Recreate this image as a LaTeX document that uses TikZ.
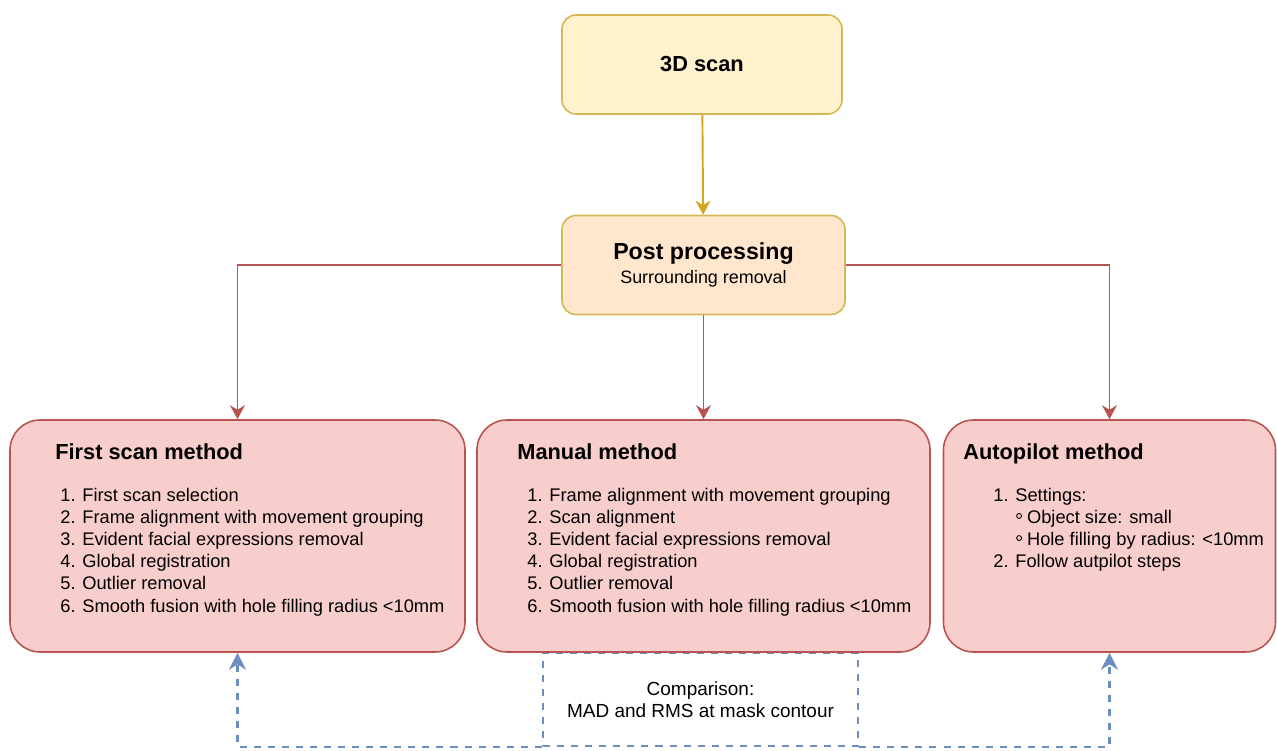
\documentclass[tikz,border=0pt]{standalone}
\usepackage{fontspec}
\setmainfont{Liberation Sans}
\usetikzlibrary{shapes,arrows.meta,positioning}

\definecolor{scanfill}{HTML}{FFF2CC}
\definecolor{scanline}{HTML}{D6B656}
\definecolor{postfill}{HTML}{FFE6CC}
\definecolor{methfill}{HTML}{F8CECC}
\definecolor{methline}{HTML}{B85450}
\definecolor{compline}{HTML}{6C8EBF}
\definecolor{goldarrow}{HTML}{D6A520}

\newcommand{\subdot}{\raisebox{0.5ex}{\tikz\draw[line width=0.5pt] (0,0) circle (1.4pt);}}

\begin{document}
\begin{tikzpicture}[
    topbox/.style={draw=scanline, line width=0.9pt, rounded corners=0.28cm,
        minimum width=5.6cm, minimum height=1.98cm, align=center},
    methodbox/.style={draw=methline, fill=methfill, line width=0.9pt,
        rounded corners=0.6cm, minimum height=4.64cm},
    titletext/.style={anchor=base west, inner sep=0, font=\fontsize{12.4}{14}\selectfont\bfseries},
    listtext/.style={anchor=west, inner sep=0, align=left, font=\fontsize{10.4}{12.6}\selectfont},
    redarrow/.style={draw=methline, line width=1.1pt, -{Stealth[length=0.28cm, width=0.3cm]}},
    bluearrow/.style={draw=compline, line width=1.3pt, dash pattern=on 4pt off 4pt,
        -{Stealth[length=0.34cm, width=0.34cm]}}
]
    \useasboundingbox (0,0) rectangle (25.54,-15.02);

    % Top boxes
    \node[topbox, fill=scanfill, font=\fontsize{12.4}{14}\selectfont\bfseries] (scan) at (14.04,-1.29) {3D scan};
    \node[topbox, fill=postfill, minimum width=5.66cm] (post) at (14.07,-5.3)
        {{\fontsize{13.2}{15}\selectfont\bfseries Post processing}\\[2pt]
         {\fontsize{10.2}{12}\selectfont Surrounding removal}};

    % Comparison box (behind the methods)
    \node[draw=compline, line width=1.3pt, dash pattern=on 4pt off 4pt,
          minimum width=6.3cm, minimum height=1.86cm, align=center,
          font=\fontsize{10.8}{12.8}\selectfont] (comp) at (14.01,-13.99)
        {Comparison:\\MAD and RMS at mask contour};

    % Method boxes
    \node[methodbox, minimum width=9.1cm] (first) at (4.75,-10.72) {};
    \node[methodbox, minimum width=9.06cm] (manual) at (14.07,-10.72) {};
    \node[methodbox, minimum width=6.64cm] (auto) at (22.19,-10.72) {};

    % Method texts
    \node[titletext] (firsttitle) at (1.1,-9.2) {First scan method};
    \node[listtext] (firstlist) at (1.2,-11.04) {1. First scan selection\\
        2. Frame alignment with movement grouping\\
        3. Evident facial expressions removal\\
        4. Global registration\\
        5. Outlier removal\\
        6. Smooth fusion with hole filling radius <10mm};

    \node[titletext] (manualtitle) at (10.34,-9.2) {Manual method};
    \node[listtext] (manuallist) at (10.54,-11.04) {1. Frame alignment with movement grouping\\
        2. Scan alignment\\
        3. Evident facial expressions removal\\
        4. Global registration\\
        5. Outlier removal\\
        6. Smooth fusion with hole filling radius <10mm};

    \node[titletext] (autotitle) at (19.26,-9.2) {Autopilot method};
    \node[listtext] (autolist) at (19.86,-10.6) {1. Settings:\\
        \hspace*{13pt}\subdot\ Object size: small\\
        \hspace*{13pt}\subdot\ Hole filling by radius: <10mm\\
        2. Follow autpilot steps};

    % Arrows
    \draw[goldarrow, line width=1.1pt, -{Stealth[length=0.28cm, width=0.3cm]}] (scan) -- (post);
    \draw[redarrow] (post.west) -| (first.north);
    \draw[redarrow] (post) -- (manual);
    \draw[redarrow] (post.east) -| (auto.north);

    % Comparison links
    \draw[bluearrow] (comp.south west) -| (first.south);
    \draw[bluearrow] (comp.south east) -| (auto.south);
\end{tikzpicture}
\end{document}
